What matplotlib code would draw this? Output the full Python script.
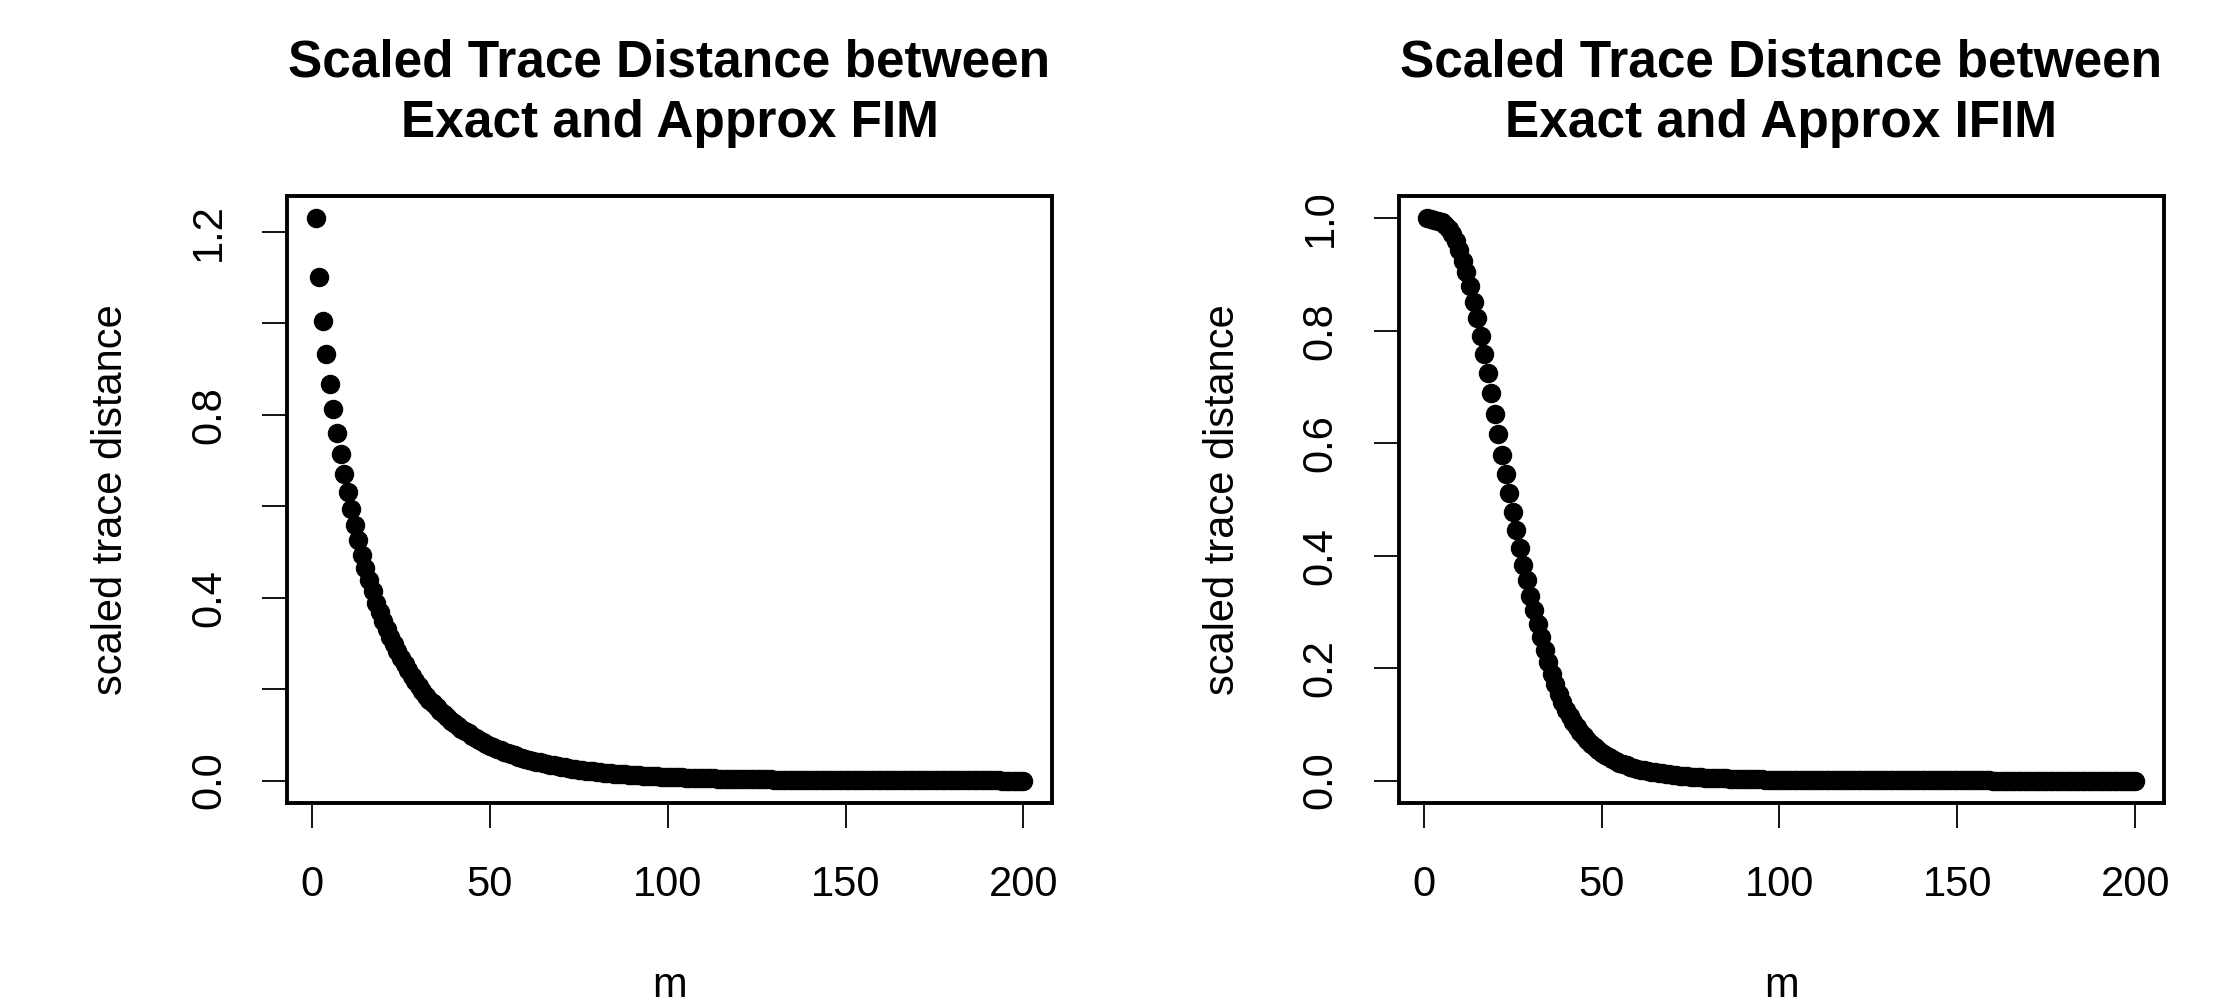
import matplotlib
matplotlib.use("Agg")
import matplotlib.pyplot as plt
import numpy as np

plt.rcParams['font.family'] = ['Liberation Sans', 'DejaVu Sans']

# ---------------- data ----------------
m = list(range(1, 201))

fim_dist = [
    1.229, 1.101, 1.005, 0.932, 0.868, 0.812, 0.761, 0.714, 0.671, 0.631,
    0.593, 0.558, 0.526, 0.494, 0.465, 0.439, 0.414, 0.389, 0.369, 0.350,
    0.332, 0.315, 0.298, 0.283, 0.268, 0.254, 0.241, 0.229, 0.217, 0.206,
    0.196, 0.186, 0.177, 0.169, 0.160, 0.152, 0.145, 0.138, 0.131, 0.125,
    0.119, 0.113, 0.108, 0.103, 0.0977, 0.0930, 0.0886, 0.0843, 0.0803, 0.0765,
    0.0730, 0.0696, 0.0664, 0.0634, 0.0605, 0.0577, 0.0550, 0.0525, 0.0501, 0.0478,
    0.0456, 0.0436, 0.0416, 0.0397, 0.0379, 0.0362, 0.0346, 0.0330, 0.0315, 0.0301,
    0.0288, 0.0275, 0.0263, 0.0252, 0.0241, 0.0230, 0.0220, 0.0210, 0.0201, 0.0192,
    0.0184, 0.0176, 0.0168, 0.0161, 0.0154, 0.0148, 0.0141, 0.0135, 0.0129, 0.0124,
    0.0119, 0.0114, 0.0109, 0.0104, 0.0100, 0.0095, 0.0091, 0.0087, 0.0084, 0.0080,
    0.0077, 0.0074, 0.0071, 0.0068, 0.0065, 0.0062, 0.0060, 0.0057, 0.0055, 0.0053,
    0.0051, 0.0049, 0.0047, 0.0045, 0.0043, 0.0041, 0.0039, 0.0038, 0.0036, 0.0035,
    0.0034, 0.0032, 0.0031, 0.0030, 0.0029, 0.0027, 0.0026, 0.0025, 0.0024, 0.0023,
    0.0022, 0.0021, 0.0020, 0.0020, 0.0019, 0.0018, 0.0017, 0.0017, 0.0016, 0.0015,
    0.00145, 0.0014, 0.00134, 0.00129, 0.00124, 0.00119, 0.00114, 0.0011, 0.00105, 0.00101,
    0.00097, 0.00093, 0.0009, 0.00086, 0.00083, 0.0008, 0.00076, 0.00073, 0.00071, 0.00068,
    0.00065, 0.00063, 0.0006, 0.00058, 0.00056, 0.00053, 0.00051, 0.00049, 0.00047, 0.00046,
    0.00044, 0.00042, 0.0004, 0.00039, 0.00037, 0.00036, 0.00034, 0.00033, 0.00032, 0.0003,
    0.00029, 0.00028, 0.00027, 0.00026, 0.00025, 0.00024, 0.00023, 0.00022, 0.00021, 0.0002,
    0.00019, 0.00019, 0.00018, 0.00017, 0.00016, 0.00016, 0.00015, 0.00015, 0.00014, 0.00013,
]

ifim_dist = [
    1.000, 0.9995, 0.998, 0.996, 0.993, 0.988, 0.981, 0.972, 0.960, 0.944,
    0.925, 0.904, 0.879, 0.852, 0.823, 0.791, 0.759, 0.725, 0.689, 0.653,
    0.616, 0.580, 0.545, 0.512, 0.477, 0.445, 0.413, 0.384, 0.356, 0.329,
    0.304, 0.279, 0.255, 0.232, 0.210, 0.190, 0.171, 0.154, 0.139, 0.125,
    0.114, 0.104, 0.095, 0.086, 0.079, 0.072, 0.065, 0.059, 0.054, 0.049,
    0.045, 0.041, 0.038, 0.035, 0.032, 0.0295, 0.0271, 0.0249, 0.0229, 0.0211,
    0.0196, 0.0183, 0.0170, 0.0158, 0.0147, 0.0137, 0.0127, 0.0118, 0.0110, 0.0102,
    0.0095, 0.0088, 0.0082, 0.0076, 0.0071, 0.0066, 0.0061, 0.0057, 0.0053, 0.0049,
    0.0046, 0.0043, 0.0041, 0.0038, 0.0036, 0.0034, 0.0032, 0.0030, 0.0028, 0.0026,
    0.0025, 0.0023, 0.0022, 0.0021, 0.0019, 0.0018, 0.0017, 0.0016, 0.0015, 0.0014,
    0.0013, 0.00125, 0.00118, 0.0011, 0.00104, 0.00098, 0.00092, 0.00086, 0.00081, 0.00076,
    0.00072, 0.00067, 0.00063, 0.0006, 0.00056, 0.00053, 0.0005, 0.00047, 0.00044, 0.00041,
    0.00039, 0.00036, 0.00034, 0.00032, 0.0003, 0.00028, 0.00027, 0.00025, 0.00024, 0.00022,
    0.00021, 0.0002, 0.00018, 0.00017, 0.00016, 0.00015, 0.00014, 0.00013, 0.00013, 0.00012,
    0.00011, 0.0001, 9.8e-5, 9.2e-5, 8.7e-5, 8.2e-5, 7.7e-5, 7.2e-5, 6.8e-5, 6.4e-5,
    6.0e-5, 5.6e-5, 5.3e-5, 5.0e-5, 4.7e-5, 4.4e-5, 4.1e-5, 3.9e-5, 3.6e-5, 3.4e-5,
    3.2e-5, 3.0e-5, 2.8e-5, 2.7e-5, 2.5e-5, 2.4e-5, 2.2e-5, 2.1e-5, 2.0e-5, 1.8e-5,
    1.7e-5, 1.6e-5, 1.5e-5, 1.4e-5, 1.3e-5, 1.3e-5, 1.2e-5, 1.1e-5, 1.0e-5, 9.8e-6,
    9.2e-6, 8.7e-6, 8.1e-6, 7.6e-6, 7.2e-6, 6.8e-6, 6.4e-6, 6.0e-6, 5.6e-6, 5.3e-6,
    5.0e-6, 4.7e-6, 4.4e-6, 4.1e-6, 3.9e-6, 3.6e-6, 3.4e-6, 3.2e-6, 3.0e-6, 2.8e-6,
]

titles = ["Scaled Trace Distance between\nExact and Approx FIM",
          "Scaled Trace Distance between\nExact and Approx IFIM"]
x_label = "m"
y_label = "scaled trace distance"
x_ticks = [0, 50, 100, 150, 200]
left_yticks = [0.0, 0.2, 0.4, 0.6, 0.8, 1.0, 1.2]
left_ylabels = ["0.0", "", "0.4", "", "0.8", "", "1.2"]
right_yticks = [0.0, 0.2, 0.4, 0.6, 0.8, 1.0]
right_ylabels = ["0.0", "0.2", "0.4", "0.6", "0.8", "1.0"]

# ---------------- figure ----------------
W, H = 2239, 1000
fig = plt.figure(figsize=(W / 100, H / 100), dpi=100)
fig.patch.set_facecolor("white")

TICK_FS = 30
TITLE_FS = 37

def r_lim(vals):
    lo, hi = min(vals), max(vals)
    d = (hi - lo) * 0.04
    return lo - d, hi + d

panels = [
    (287.3, fim_dist, left_yticks, left_ylabels, titles[0]),
    (1399.0, ifim_dist, right_yticks, right_ylabels, titles[1]),
]
ax_w, ax_top, ax_bot = 764.5, 196.0, 803.0

for (x0, vals, yt, ytl, title) in panels:
    ax = fig.add_axes([x0 / W, 1 - ax_bot / H, ax_w / W, (ax_bot - ax_top) / H])
    ax.plot(m, vals, linestyle="none", marker="o", markersize=13.2,
            markerfacecolor="black", markeredgecolor="black", markeredgewidth=0.8)
    ax.set_xlim(*r_lim(m))
    ax.set_ylim(*r_lim(vals))
    ax.set_xticks(x_ticks)
    ax.set_xticklabels([str(t) for t in x_ticks])
    ax.set_yticks(yt)
    ax.set_yticklabels(ytl, rotation=90, va="center")
    for s in ax.spines.values():
        s.set_linewidth(2.8)
        s.set_color("black")
    ax.tick_params(axis="both", direction="out", length=18, width=1.3,
                   labelsize=TICK_FS, colors="black")
    ax.tick_params(axis="x", pad=27)
    ax.tick_params(axis="y", pad=24)
    cx = x0 + ax_w / 2
    fig.text(cx / W, 1 - 63 / H, title.split("\n")[0], ha="center", va="center",
             fontsize=TITLE_FS, fontweight="bold")
    fig.text(cx / W, 1 - 124 / H, title.split("\n")[1], ha="center", va="center",
             fontsize=TITLE_FS, fontweight="bold")
    fig.text(cx / W, 1 - 997 / H, x_label, ha="center", va="baseline",
             fontsize=TICK_FS)
    fig.text((x0 - 176) / W, 1 - 500 / H, y_label, ha="center", va="center",
             rotation=90, fontsize=TICK_FS)

fig.savefig("out.png", dpi=100, facecolor="white")
